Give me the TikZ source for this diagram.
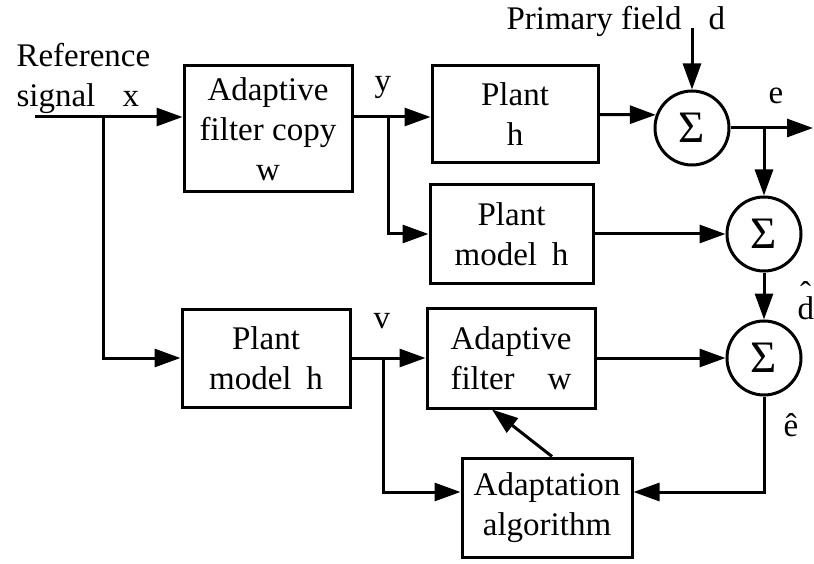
\documentclass[tikz,border=0pt]{standalone}
\usepackage{fontspec}
\setmainfont{Liberation Serif}
\usetikzlibrary{arrows.meta,calc}
\begin{document}
\begin{tikzpicture}[x=1pt,y=-1pt,
  font=\fontsize{33}{40}\selectfont,
  line width=3pt,
  blk/.style={draw, align=center, inner sep=0pt},
  sum/.style={draw, circle, minimum size=74pt, inner sep=0pt, font=\fontsize{45}{45}\selectfont},
  lbl/.style={inner sep=0pt, anchor=base west},
  arr/.style={-{Triangle[length=26pt,width=18pt]}}]
\useasboundingbox[fill=white] (0,0) rectangle (814,564);

% blocks
\node[blk, minimum width=168pt, minimum height=126pt] (afc) at (268,129) {Adaptive\\filter copy\\w};
\node[blk, minimum width=166pt, minimum height=97pt] (ph) at (515,114.5) {Plant\\h};
\node[blk, minimum width=163pt, minimum height=98pt] (pm1) at (511.5,234) {Plant\\model\hspace{.45em}h};
\node[blk, minimum width=168pt, minimum height=98pt] (pm2) at (266,358) {Plant\\model\hspace{.45em}h};
\node[blk, minimum width=168pt, minimum height=100pt] (af) at (511,358) {Adaptive\\filter\hspace{1em}w};
\node[blk, minimum width=170pt, minimum height=99pt] (aa) at (547,507.5) {Adaptation\\algorithm};

% summing junctions
\node[sum] (s1) at (692,128) {Σ};
\node[sum] (s2) at (764,234) {Σ};
\node[sum] (s3) at (764,358) {Σ};

% signal labels
\node[lbl] (lref) at (15,67) {Reference};
\node[lbl] (lsig) at (15,107) {signal};
\node[lbl] (lx) at (121,107) {x};
\node[lbl] (ly) at (373,92) {y};
\node[lbl] (lpf) at (505,30) {Primary field};
\node[lbl] (ld) at (707,30) {d};
\node[lbl] (le) at (767,104) {e};
\node[lbl] (ldh) at (796,319) {\makebox[0pt][l]{\hspace{2.5pt}\raisebox{15pt}{ˆ}}d};
\node[lbl] (lv) at (372,328) {v};
\node[lbl] (leh) at (782,436) {ê};

% branch points and free ends
\coordinate (xin) at (35,117);
\coordinate (xb) at (103,117);
\coordinate (yb) at (388,117);
\coordinate (pf) at (692,28);
\coordinate (eout) at (813,128);
\coordinate (vb) at (383,358);
\coordinate (ab) at (383,492);
\coordinate (eb) at (764,492);

% connectors
\draw[arr] (xin) -- (xin -| afc.west);
\draw[arr] (xb) |- (pm2.west);
\draw (afc.east |- yb) -- (yb);
\draw[arr] (yb) -- (yb -| ph.west);
\draw[arr] (yb) |- (pm1.west);
\draw[arr] (ph.east) -- (s1.160);
\draw[arr] (pf) -- (s1.north);
\draw[arr] (s1.east) -- (eout);
\draw[arr] (s2 |- s1) -- (s2.north);
\draw[arr] (pm1.east) -- (s2.west);
\draw[arr] (s2.south) -- (s3.north);
\draw[arr] (af.east) -- (s3.west);
\draw[arr] (s3.south) -- (eb) -- (eb -| aa.east);
\draw[arr] (pm2.east) -- (af.west);
\draw[arr] (vb) -- (ab) -- (ab -| aa.west);
\draw[arr] ($(aa.north)+(5,0)$) -- ($(af.south)+(-19,0)$);
\end{tikzpicture}
\end{document}
